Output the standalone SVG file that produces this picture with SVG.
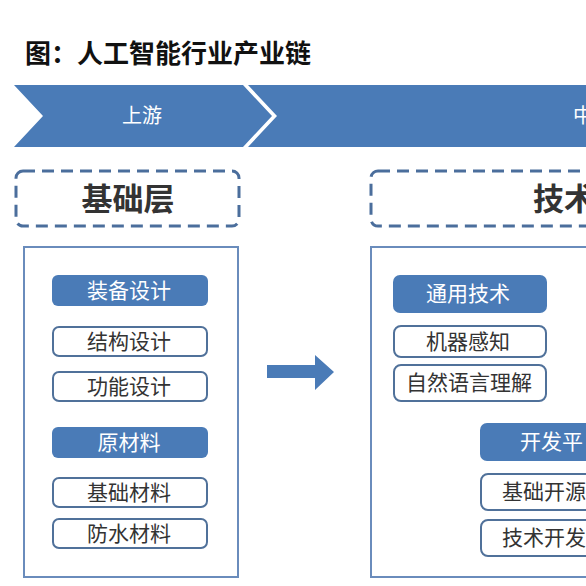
<svg xmlns="http://www.w3.org/2000/svg" width="586" height="586" viewBox="0 0 586 586">
<style>
text{font-family:"Noto Sans CJK SC","Liberation Sans",sans-serif;}
.title{font-size:26px;font-weight:bold;fill:#111;}
.band{fill:#4a7bb7;}
.bandtxt{font-size:20px;fill:#fff;}
.dash{fill:#fff;stroke:#4b6e9c;stroke-width:3;stroke-dasharray:12 7;}
.layer{font-size:31px;font-weight:bold;fill:#333;}
.panel{fill:#fff;stroke:#6a8cbc;stroke-width:2;}
.fill{fill:#4a7bb7;}
.out{fill:#fff;stroke:#50719a;stroke-width:2;}
.wt{font-size:21px;fill:#fff;}
.dt{font-size:21px;fill:#333;}
</style>
<rect width="586" height="586" fill="#fff"/>
<text class="title" x="25" y="63">图：人工智能行业产业链</text>

<g id="band-upstream">
<polygon class="band" points="14,85 243,85 272,116 243,147 14,147 43,116"/>
<text class="bandtxt" x="142" y="123" text-anchor="middle">上游</text>
</g>
<g id="band-midstream">
<polygon class="band" points="248,85 600,85 600,147 248,147 277,116"/>
<text class="bandtxt" x="573" y="123">中</text>
</g>

<g id="layer-base">
<rect class="dash" x="16" y="171" width="223" height="55" rx="7"/>
<text class="layer" x="128" y="210" text-anchor="middle">基础层</text>
</g>
<g id="layer-tech">
<rect class="dash" x="371" y="171" width="260" height="55" rx="7"/>
<text class="layer" x="533" y="210">技术</text>
</g>

<g id="panel-base">
<rect class="panel" x="24" y="247" width="214" height="330"/>
<g id="n-zbsj"><rect class="fill" x="52" y="275" width="156" height="31" rx="6"/><text class="wt" x="129" y="298" text-anchor="middle">装备设计</text></g>
<g id="n-jgsj"><rect class="out" x="53" y="327" width="154" height="29" rx="6"/><text class="dt" x="129" y="349" text-anchor="middle">结构设计</text></g>
<g id="n-gnsj"><rect class="out" x="53" y="372" width="154" height="29" rx="6"/><text class="dt" x="129" y="394" text-anchor="middle">功能设计</text></g>
<g id="n-ycl"><rect class="fill" x="52" y="427" width="156" height="31" rx="6"/><text class="wt" x="129" y="450" text-anchor="middle">原材料</text></g>
<g id="n-jccl"><rect class="out" x="53" y="478" width="154" height="29" rx="6"/><text class="dt" x="129" y="500" text-anchor="middle">基础材料</text></g>
<g id="n-fscl"><rect class="out" x="53" y="519" width="154" height="29" rx="6"/><text class="dt" x="129" y="541" text-anchor="middle">防水材料</text></g>
</g>

<g id="connectors">
<polygon class="fill" points="267,365 315,365 315,355 334,372 315,390 315,378 267,378"/>
</g>

<g id="panel-tech">
<rect class="panel" x="371" y="247" width="260" height="330"/>
<g id="n-tyjs"><rect class="fill" x="393" y="275" width="154" height="38" rx="7"/><text class="wt" x="468" y="301" text-anchor="middle">通用技术</text></g>
<g id="n-jqgz"><rect class="out" x="394" y="326" width="152" height="31" rx="7"/><text class="dt" x="468" y="349" text-anchor="middle">机器感知</text></g>
<g id="n-zryy"><rect class="out" x="394" y="365" width="152" height="36" rx="7"/><text class="dt" x="469" y="390" text-anchor="middle">自然语言理解</text></g>
<g id="n-kfpt"><rect class="fill" x="480" y="423" width="150" height="38" rx="7"/><text class="wt" x="520" y="449">开发平</text></g>
<g id="n-jcky"><rect class="out" x="481" y="474" width="150" height="36" rx="7"/><text class="dt" x="502" y="499">基础开源</text></g>
<g id="n-jskf"><rect class="out" x="481" y="520" width="150" height="36" rx="7"/><text class="dt" x="502" y="545">技术开发</text></g>
</g>
</svg>
